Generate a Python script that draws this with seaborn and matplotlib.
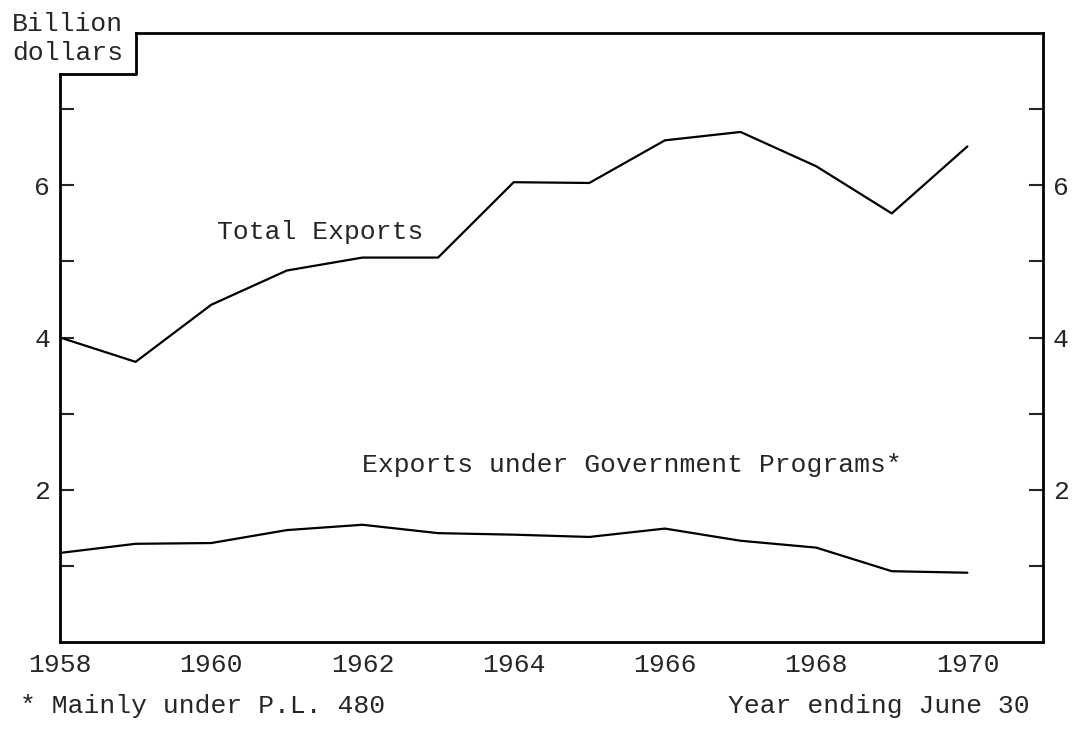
import matplotlib
matplotlib.use('Agg')
import matplotlib.pyplot as plt
import seaborn as sns
import pandas as pd

# ─── Data (billion dollars, year ending June 30) ────────────────────────────
years = list(range(1958, 1971))
total_exports = [4.00, 3.68, 4.43, 4.88, 5.05, 5.05, 6.04, 6.03, 6.59, 6.70, 6.25, 5.63, 6.51]
gov_programs = [1.17, 1.29, 1.30, 1.47, 1.54, 1.43, 1.41, 1.38, 1.49, 1.33, 1.24, 0.93, 0.91]

y_ticks = [1, 2, 3, 4, 5, 6, 7]
y_labels = ['', '2', '', '4', '', '6', '']
x_labels = ['1958', '', '1960', '', '1962', '', '1964', '', '1966', '', '1968', '', '1970']

df = pd.DataFrame({
    'year': years * 2,
    'value': total_exports + gov_programs,
    'series': ['Total Exports'] * len(years) + ['Government'] * len(years),
})

sns.set_style('white')
plt.rcParams['font.family'] = ['Liberation Mono', 'DejaVu Sans Mono']

FS = 19
fig = plt.figure(figsize=(10.73, 7.44), dpi=100)
ax = fig.add_axes([60 / 1073, 1 - 642 / 744, 983 / 1073, 609 / 744])

sns.lineplot(data=df, x='year', y='value', units='series', estimator=None,
             color='black', linewidth=1.6, legend=False, ax=ax)

ax.set_xlim(1958, 1971)
ax.set_ylim(0, 8)
ax.set_xlabel('')
ax.set_ylabel('')

ax.set_xticks(years)
ax.set_xticklabels(x_labels, fontsize=FS)
ax.set_yticks(y_ticks)
ax.set_yticklabels(y_labels, fontsize=FS)
ax.tick_params(axis='x', direction='in', length=10, width=1.5, pad=8)
ax.tick_params(axis='y', direction='in', length=10, width=1.5, pad=7,
               left=True, right=True, labelleft=True, labelright=True)

for s in ax.spines.values():
    s.set_color('black')
    s.set_linewidth(2)

# notched top-left corner for the unit label box
notch_y = 7.46
ax.spines['left'].set_bounds(0, notch_y)
ax.spines['top'].set_bounds(1959.0, 1971)
ax.plot([1958, 1959.0, 1959.0], [notch_y, notch_y, 8], color='black',
        linewidth=2, clip_on=False, solid_capstyle='projecting')

fig.text(12 / 1073, 1 - 24 / 744, 'Billion', fontsize=FS, va='center', ha='left')
fig.text(12 / 1073, 1 - 53 / 744, 'dollars', fontsize=FS, va='center', ha='left')

ax.text(1960.08, 5.38, 'Total Exports', fontsize=FS, va='center', ha='left')
ax.text(1962.0, 2.33, 'Exports under Government Programs*', fontsize=FS,
        va='center', ha='left')

fig.text(20 / 1073, 1 - 706 / 744, '* Mainly under P.L. 480', fontsize=FS,
         va='center', ha='left')
fig.text(1030 / 1073, 1 - 706 / 744, 'Year ending June 30', fontsize=FS,
         va='center', ha='right')

plt.savefig('out.png', dpi=100)
plt.close(fig)
